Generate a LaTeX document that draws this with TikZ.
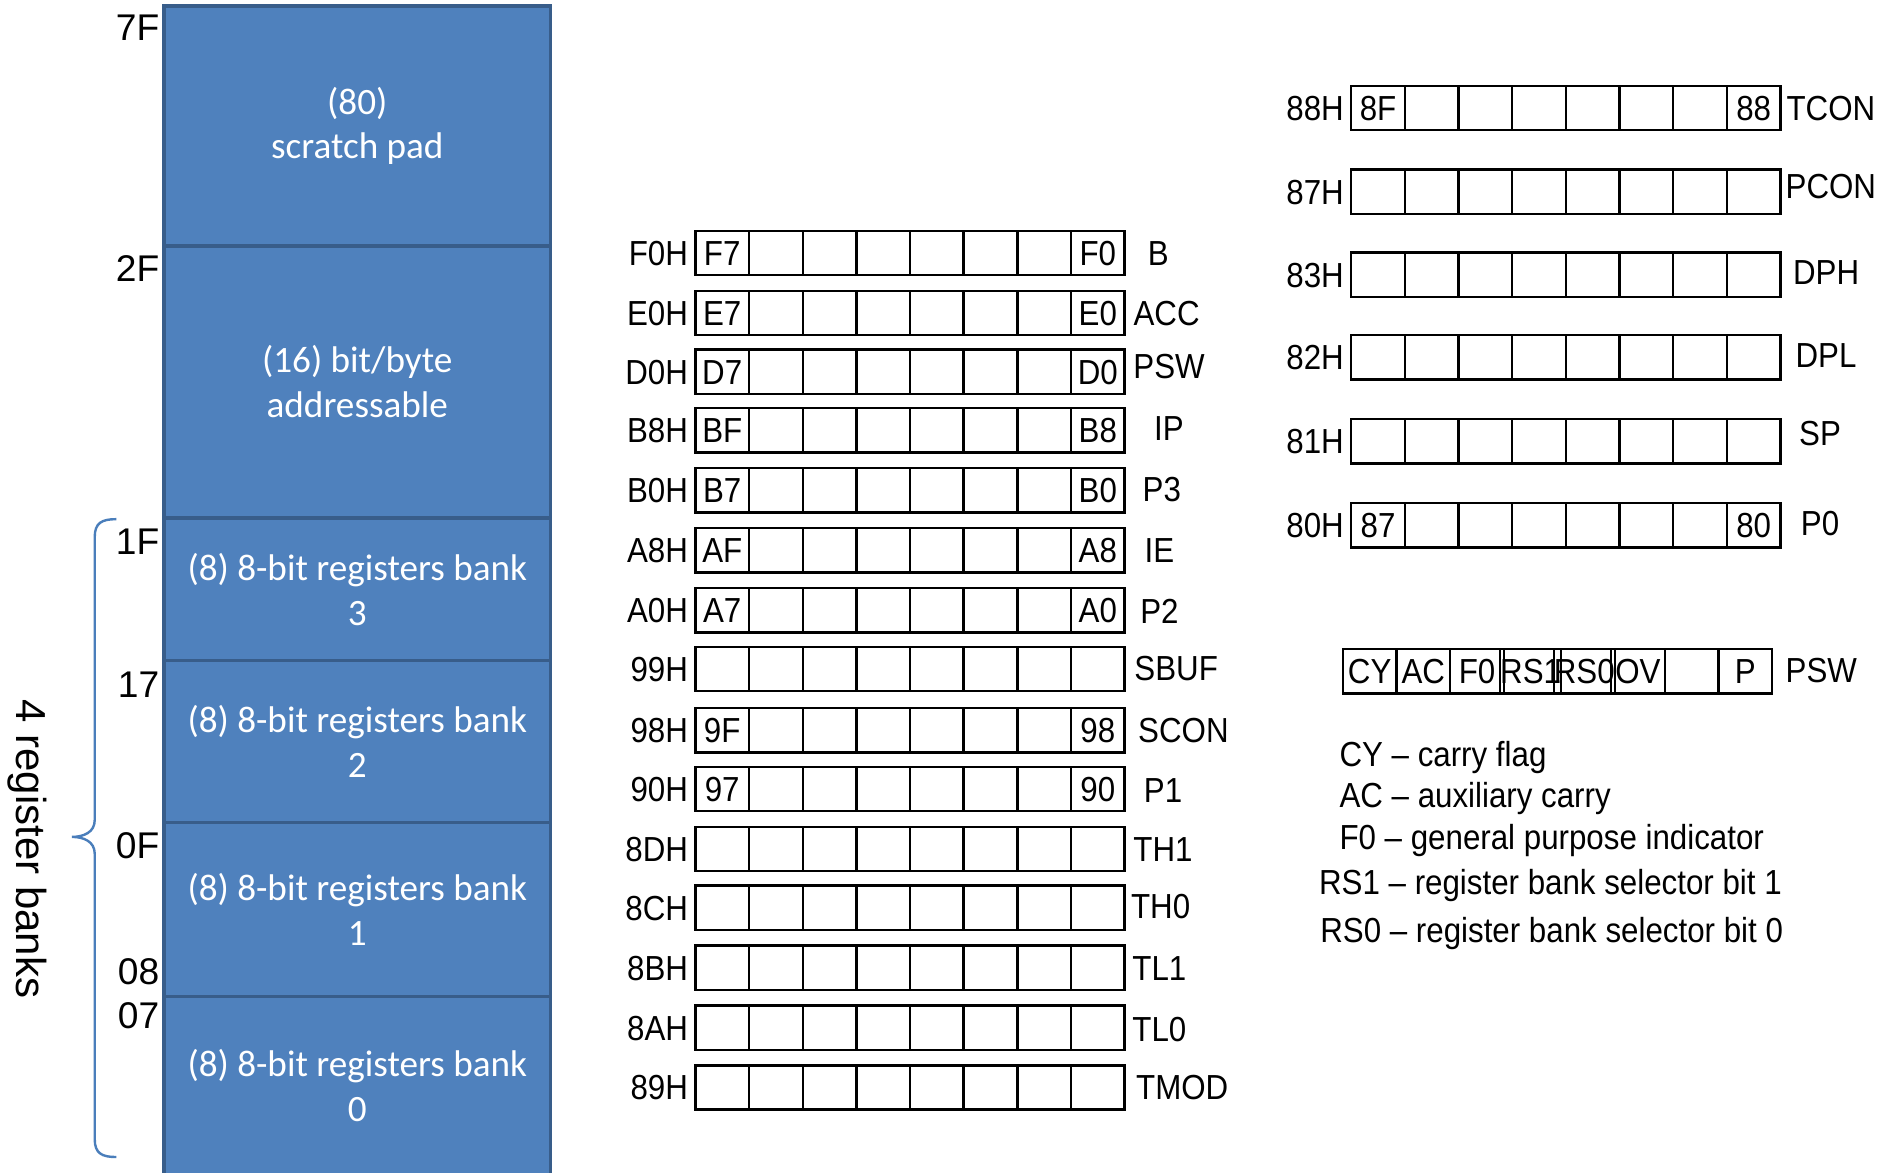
\documentclass[tikz,border=0pt]{standalone}
\usepackage{fontspec}
\setmainfont{Liberation Sans}[FakeStretch=0.9]
\newfontfamily\widefont{Liberation Sans}
\newfontfamily\blockfont{Carlito}
\definecolor{bankfill}{HTML}{4F81BD}
\definecolor{bankedge}{HTML}{385D8A}
\definecolor{bracecol}{HTML}{4A7EBB}

\begin{document}
\begin{tikzpicture}[x=1pt,y=-1pt,
  lbl/.style={font=\fontsize{29}{29}\selectfont, inner sep=0pt, text height=20.8pt, text depth=0pt},
  addrlbl/.style={font=\widefont\fontsize{31}{31}\selectfont, inner sep=0pt, text height=22.2pt, text depth=0pt},
  regcell/.style={draw=black, line width=2pt, minimum width=44.75pt, minimum height=37pt,
    inner sep=0pt, font=\fontsize{29}{29}\selectfont, text height=20.8pt, text depth=0pt},
  bank/.style={draw=bankedge, fill=bankfill, line width=3pt, minimum width=322pt,
    inner sep=0pt, text=white, align=center, font=\blockfont\fontsize{31}{37.5}\selectfont}
]
\useasboundingbox (0,0) rectangle (1568,978);

% internal RAM map
\node[bank, minimum height=200pt] (scratch) at (298,105) {(80)\\scratch pad};
\node[bank, minimum height=227pt] (bitarea) at (298,318.5) {(16) bit/byte\\addressable};
\node[bank, minimum height=119pt] (bank3) at (298,491.5) {(8) 8-bit registers bank\\3};
\node[bank, minimum height=135pt] (bank2) at (298,618.5) {(8) 8-bit registers bank\\2};
\node[bank, minimum height=145pt] (bank1) at (298,758.5) {(8) 8-bit registers bank\\1};
\node[bank, minimum height=149pt] (bank0) at (298,905.5) {(8) 8-bit registers bank\\0};

% address marks
\foreach \yy/\txt [count=\i] in {23/7F,224/2F,451/1F,571/17,705/0F,810/08,847/07}
  \node[addrlbl, anchor=east] (addr\i) at (133,\yy) {\txt};

% brace around the register banks
\draw[bracecol, line width=2pt] (97,433) .. controls (85,433) and (79,436) .. (79,448)
  -- (79,684) .. controls (79,694) and (70,698) .. (60,698)
  .. controls (70,698) and (79,702) .. (79,712)
  -- (79,950) .. controls (79,962) and (85,965) .. (97,965);
\node[font=\widefont\fontsize{35}{35}\selectfont, inner sep=0pt, rotate=-90] (banks) at (23,708) {4 register banks};

% bit-addressable SFRs (middle column)
\foreach \yy/\addr/\hi/\lo/\nm/\nx/\ny [count=\i] in {
  211/F0H/F7/F0/B/966/211,
  261/E0H/E7/E0/ACC/973/261,
  310/D0H/D7/D0/PSW/975/305,
  359/B8H/BF/B8/IP/975/357,
  409/B0H/B7/B0/P3/969/408,
  459/A8H/AF/A8/IE/967/459,
  509/A0H/A7/A0/P2/967/510,
  558/99H///SBUF/981/557,
  609/98H/9F/98/SCON/987/609,
  658/90H/97/90/P1/970/659,
  708/8DH///TH1/970/708,
  757/8CH///TH0/968/756,
  807/8BH///TL1/967/807,
  857/8AH///TL0/967/858,
  907/89H///TMOD/986/907} {
  \foreach \k in {0,...,7}
    \node[regcell] (m\i-\k) at ({602.375+44.75*\k},\yy)
      {\ifnum\k=0 \hi\else\ifnum\k=7 \lo\fi\fi};
  \node[lbl, anchor=east] (m\i-addr) at (574,\yy) {\addr};
  \node[lbl] (m\i-name) at (\nx,\ny) {\nm};
}

% right column SFRs
\foreach \yy/\addr/\hi/\lo/\nm/\nx/\ny [count=\i] in {
  90/88H/8F/88/TCON/1527/90,
  160/87H///PCON/1527/155,
  229/83H///DPH/1523/227,
  298/82H///DPL/1523/296,
  368/81H///SP/1518/361,
  438/80H/87/80/P0/1518/436} {
  \foreach \k in {0,...,7}
    \node[regcell] (r\i-\k) at ({1149.375+44.75*\k},\yy)
      {\ifnum\k=0 \hi\else\ifnum\k=7 \lo\fi\fi};
  \node[lbl, anchor=east] (r\i-addr) at (1121,\yy) {\addr};
  \node[lbl] (r\i-name) at (\nx,\ny) {\nm};
}

% PSW bit layout
\foreach \bit [count=\k from 0] in {CY,AC,F0,RS1,RS0,OV,,P}
  \node[regcell] (psw-\k) at ({1142.375+44.75*\k},560) {\bit};
\node[lbl] (psw-name) at (1519,559) {PSW};

% flag legend
\node[lbl, anchor=west] (leg1) at (1117,629) {CY -- carry flag};
\node[lbl, anchor=west] (leg2) at (1117,663) {AC -- auxiliary carry};
\node[lbl, anchor=west] (leg3) at (1117,698) {F0 -- general purpose indicator};
\node[lbl, anchor=west] (leg4) at (1100,736) {RS1 -- register bank selector bit 1};
\node[lbl, anchor=west] (leg5) at (1101,776) {RS0 -- register bank selector bit 0};
\end{tikzpicture}
\end{document}
